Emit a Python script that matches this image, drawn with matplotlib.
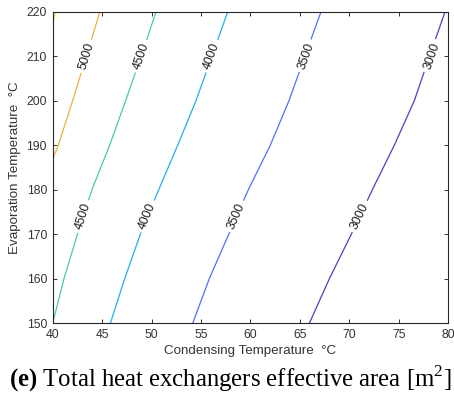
import numpy as np
import matplotlib
matplotlib.use("Agg")
import matplotlib.pyplot as plt

# ---- data (contour lines: condensing temp at given evaporation temp)
evap = [150, 160, 170, 180, 190, 200, 210, 220]
cond_3000 = [65.95, 67.97, 70.19, 72.32, 74.54, 76.56, 78.10, 79.67]
cond_3500 = [54.16, 55.83, 57.80, 59.78, 62.00, 63.89, 65.50, 67.13]
cond_4000 = [45.83, 47.28, 48.86, 50.72, 52.64, 54.49, 56.10, 57.70]
cond_4500 = [40.00, 41.14, 42.50, 43.97, 45.76, 47.38, 48.95, 50.45]
evap_5000 = [186.9, 190, 200, 210, 220]
cond_5000 = [40.00, 40.57, 42.02, 43.40, 44.78]
evap_5500 = [217.3, 220]
cond_5500 = [40.00, 40.30]

levels = [3000, 3500, 4000, 4500, 5000, 5500]
colors = ["#4b3fc4", "#4e72f5", "#26ade6", "#45d18c", "#f0b13a", "#f2e41d"]

# label positions (condensing, evaporation) per level
label_pos = {
    3000: [(78.35, 210.0), (71.05, 174.0)],
    3500: [(65.65, 210.0), (58.60, 174.0)],
    4000: [(56.10, 210.0), (49.60, 174.0)],
    4500: [(48.95, 210.0), (43.05, 174.0)],
    5000: [(43.40, 210.0)],
    5500: [],
}

lines = {
    3000: (cond_3000, evap),
    3500: (cond_3500, evap),
    4000: (cond_4000, evap),
    4500: (cond_4500, evap),
    5000: (cond_5000, evap_5000),
    5500: (cond_5500, evap_5500),
}

plt.rcParams['font.family'] = ['Liberation Sans', 'DejaVu Sans']
fig = plt.figure(figsize=(4.54, 3.97), dpi=100)
ax = fig.add_axes([0.116, 0.1856, 0.8715, 0.785])

ax.set_xlim(40, 80)
ax.set_ylim(150, 220)

for lev, col in zip(levels, colors):
    xs, ys = lines[lev]
    ax.plot(xs, ys, color=col, lw=0.9, solid_capstyle='butt', solid_joinstyle='round')
    for (lx, ly) in label_pos[lev]:
        xa = np.array(xs); ya = np.array(ys)
        i = np.searchsorted(ya, ly)
        i = min(max(i, 1), len(ya) - 1)
        p0 = ax.transData.transform((xa[i - 1], ya[i - 1]))
        p1 = ax.transData.transform((xa[i], ya[i]))
        ang = np.degrees(np.arctan2(p1[1] - p0[1], p1[0] - p0[0]))
        ax.text(lx, ly, f"{lev}", rotation=ang, rotation_mode='anchor',
                ha='center', va='center', fontsize=8.7, color='#1a1a1a',
                bbox=dict(boxstyle='square,pad=0.3', fc='white', ec='none'),
                zorder=5)

ax.set_xticks(np.arange(40, 81, 5))
ax.set_yticks(np.arange(150, 221, 10))
ax.tick_params(direction='in', top=True, right=True, length=3, width=0.7,
               labelsize=8.7, colors='#333333', pad=4)
for s in ax.spines.values():
    s.set_color('#262626')
    s.set_linewidth(0.8)

ax.set_xlabel("Condensing Temperature  °C", fontsize=9.6, color='#333333', labelpad=3)
ax.set_ylabel("Evaporation Temperature  °C", fontsize=9.6, color='#333333', labelpad=4)

plt.rcParams['mathtext.fontset'] = 'custom'
plt.rcParams['mathtext.rm'] = 'Liberation Serif'
plt.rcParams['mathtext.bf'] = 'Liberation Serif:bold'
fig.text(0.507, 0.027, r"$\mathbf{(e)}$ Total heat exchangers effective area [m$^2$]",
         family='Liberation Serif', fontsize=17.8, ha='center', va='baseline', color='black')

fig.savefig("out.png", dpi=100)
